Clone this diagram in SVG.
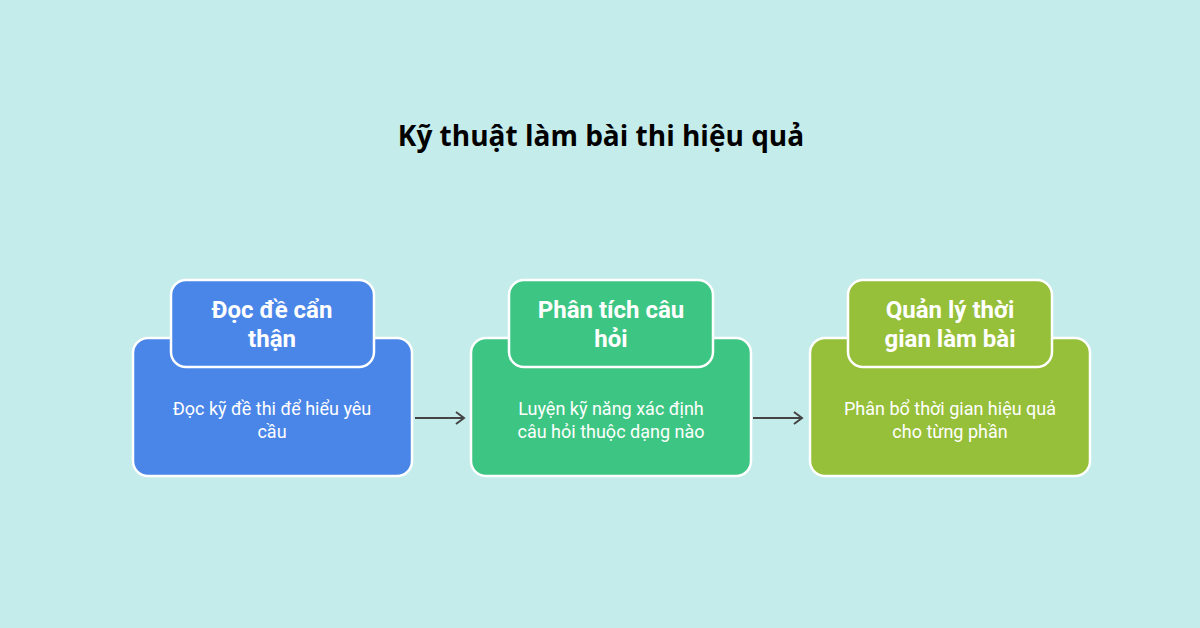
<svg xmlns="http://www.w3.org/2000/svg" width="1200" height="628" viewBox="0 0 1200 628">
<style>
.title{font-family:"Open Sans","Noto Sans",sans-serif;font-weight:700;font-size:28px;fill:#000;text-anchor:middle}
.head{font-family:Roboto,"Noto Sans",sans-serif;font-weight:700;font-size:24px;fill:#fff;text-anchor:middle}
.body{font-family:Roboto,"Noto Sans",sans-serif;font-size:18px;fill:#fff;text-anchor:middle}
.box{stroke:#fff;stroke-width:2.5}
.conn{stroke:#444;stroke-width:2;fill:none}
</style>
<defs>
<marker id="arr" markerWidth="12" markerHeight="14" refX="10" refY="7" orient="auto" markerUnits="userSpaceOnUse">
<path d="M2,1 L10,7 L2,13" fill="none" stroke="#444" stroke-width="2"/>
</marker>
</defs>
<rect width="1200" height="628" fill="#C4ECEB"/>
<text class="title" x="601" y="146">Kỹ thuật làm bài thi hiệu quả</text>
<g id="connectors">
<line class="conn" x1="415" y1="418" x2="464" y2="418" marker-end="url(#arr)"/>
<line class="conn" x1="753" y1="418" x2="802" y2="418" marker-end="url(#arr)"/>
</g>
<g id="node1">
<rect class="box" x="133" y="338" width="279" height="138" rx="15" fill="#4A86E8"/>
<rect class="box" x="171" y="280" width="203" height="87" rx="15" fill="#4A86E8"/>
<text class="head" x="272" y="318">Đọc đề cẩn</text>
<text class="head" x="272" y="347">thận</text>
<text class="body" x="272" y="415">Đọc kỹ đề thi để hiểu yêu</text>
<text class="body" x="272" y="438">cầu</text>
</g>
<g id="node2">
<rect class="box" x="471" y="338" width="280" height="138" rx="15" fill="#3DC683"/>
<rect class="box" x="509" y="280" width="204" height="87" rx="15" fill="#3DC683"/>
<text class="head" x="611" y="318">Phân tích câu</text>
<text class="head" x="611" y="347">hỏi</text>
<text class="body" x="611" y="415">Luyện kỹ năng xác định</text>
<text class="body" x="611" y="438">câu hỏi thuộc dạng nào</text>
</g>
<g id="node3">
<rect class="box" x="810" y="338" width="280" height="138" rx="15" fill="#96BF3A"/>
<rect class="box" x="848" y="280" width="204" height="87" rx="15" fill="#96BF3A"/>
<text class="head" x="950" y="318">Quản lý thời</text>
<text class="head" x="950" y="347">gian làm bài</text>
<text class="body" x="950" y="415">Phân bổ thời gian hiệu quả</text>
<text class="body" x="950" y="438">cho từng phần</text>
</g>
</svg>
